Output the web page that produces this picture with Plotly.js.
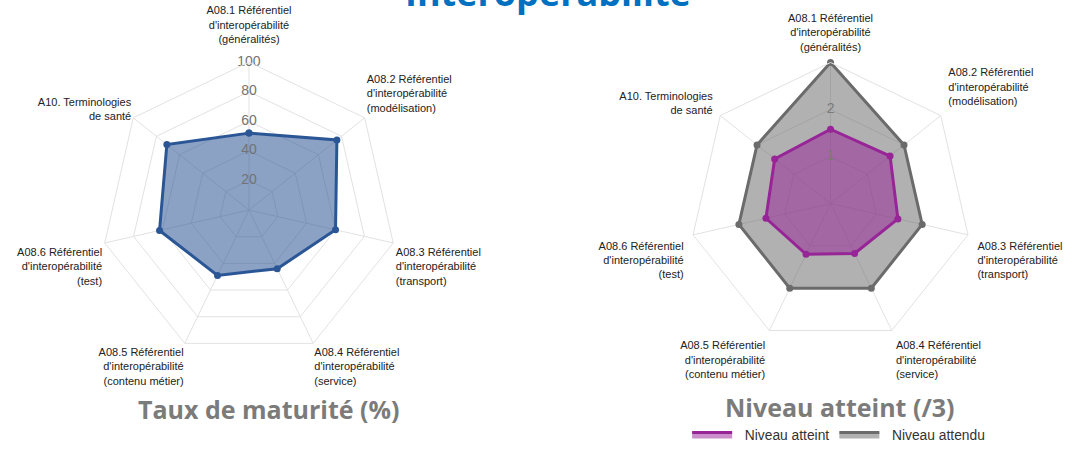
<!DOCTYPE html>
<html><head><meta charset="utf-8">
<script src="https://cdn.plot.ly/plotly-3.0.1.min.js"></script>
<style>html,body{margin:0;padding:0;background:#fff}#chart{width:1072px;height:450px}</style>
</head><body><div id="chart"></div>
<script>
var categories = [
  "A08.1 Référentiel d'interopérabilité (généralités)",
  "A08.2 Référentiel d'interopérabilité (modélisation)",
  "A08.3 Référentiel d'interopérabilité (transport)",
  "A08.4 Référentiel d'interopérabilité (service)",
  "A08.5 Référentiel d'interopérabilité (contenu métier)",
  "A08.6 Référentiel d'interopérabilité (test)",
  "A10. Terminologies de santé"
];
// tick labels as wrapped in the reference (blank lines only nudge the block outward)
var leftTickLabels = [
  "A08.1 Référentiel<br>d'interopérabilité<br>(généralités)<br>\u00a0",
  "A08.2 Référentiel<br>d'interopérabilité<br>(modélisation)<br>\u00a0",
  "\u00a0<br>\u00a0<br>A08.3 Référentiel<br>d'interopérabilité<br>(transport)",
  "A08.4 Référentiel<br>d'interopérabilité<br>(service)",
  "A08.5 Référentiel<br>d'interopérabilité<br>(contenu métier)",
  "\u00a0<br>\u00a0<br>A08.6 Référentiel<br>d'interopérabilité<br>(test)",
  "A10. Terminologies<br>de santé"
];
var rightTickLabels = [
  "A08.1 Référentiel<br>d'interopérabilité<br>(généralités)",
  "A08.2 Référentiel<br>d'interopérabilité<br>(modélisation)<br>\u00a0",
  "\u00a0<br>\u00a0<br>A08.3 Référentiel<br>d'interopérabilité<br>(transport)",
  "A08.4 Référentiel<br>d'interopérabilité<br>(service)",
  "A08.5 Référentiel<br>d'interopérabilité<br>(contenu métier)",
  "\u00a0<br>\u00a0<br>A08.6 Référentiel<br>d'interopérabilité<br>(test)",
  "A10. Terminologies<br>de santé"
];
var tauxMaturite = [52, 76, 60, 44, 49, 62, 71];
var niveauAtteint = [1.58, 1.62, 1.47, 1.18, 1.2, 1.41, 1.52];
var niveauAttendu = [3, 2, 2, 2, 2, 2, 2];
var leftTicks = [20, 40, 60, 80, 100];
var rightTicks = [1, 2];
var seriesNames = ['Niveau atteint', 'Niveau attendu'];

function closed(a){ return a.concat([a[0]]); }
var cats = closed(categories);

var BLUE = '#2b5696', GREY = '#6b6b6b', PURPLE = '#972597';

var traces = [
  {type:'scatterpolar', subplot:'polar', r: closed(tauxMaturite), theta: cats, mode:'lines+markers',
   fill:'toself', fillcolor:'rgba(43,86,150,0.55)', line:{color:BLUE, width:3}, marker:{size:7, color:BLUE},
   showlegend:false, hoverinfo:'skip'},
  // Niveau attendu: area + outline (legend), then its points
  {type:'scatterpolar', subplot:'polar2', r: closed(niveauAttendu), theta: cats, mode:'lines', name:'\u00a0\u00a0' + seriesNames[1],
   fill:'toself', fillcolor:'rgba(100,100,100,0.5)', line:{color:GREY, width:3},
   legendrank:2, hoverinfo:'skip'},
  {type:'scatterpolar', subplot:'polar2', r: niveauAttendu, theta: categories, mode:'markers',
   marker:{size:7, color:GREY}, showlegend:false, hoverinfo:'skip'},
  // Niveau atteint
  {type:'scatterpolar', subplot:'polar2', r: closed(niveauAtteint), theta: cats, mode:'lines', name:'\u00a0\u00a0' + seriesNames[0],
   fill:'toself', fillcolor:'rgba(150,30,150,0.5)', line:{color:PURPLE, width:3},
   legendrank:1, hoverinfo:'skip'},
  {type:'scatterpolar', subplot:'polar2', r: niveauAtteint, theta: categories, mode:'markers',
   marker:{size:7, color:PURPLE}, showlegend:false, hoverinfo:'skip'},
  // radial tick labels, centred on the radial spoke as in the reference
  {type:'scatterpolar', subplot:'polar', r: leftTicks, theta: leftTicks.map(function(){return categories[0];}),
   mode:'text', text: leftTicks.map(String), textposition:'middle center',
   textfont:{family:'Liberation Sans, Arial, sans-serif', size:14, color:'#737373'}, showlegend:false, hoverinfo:'skip'},
  {type:'scatterpolar', subplot:'polar2', r: rightTicks, theta: rightTicks.map(function(){return categories[0];}),
   mode:'text', text: rightTicks.map(String), textposition:'middle center',
   textfont:{family:'Liberation Sans, Arial, sans-serif', size:14, color:'#7a7a7a'}, showlegend:false, hoverinfo:'skip'}
];

function polarCfg(dx, dy, range, ticklen, labels){
  return {
    domain:{x:dx, y:dy},
    gridshape:'linear',
    bgcolor:'rgba(0,0,0,0)',
    angularaxis:{direction:'clockwise', rotation:90, type:'category', categoryarray:categories,
      tickmode:'array', tickvals:categories, ticktext:labels,
      tickfont:{family:'Liberation Sans, Arial, sans-serif', size:11, color:'#222'},
      gridcolor:'#e2e2e2', linecolor:'#e2e2e2', showline:true,
      ticks: ticklen ? 'outside' : '', ticklen: ticklen || 0, tickcolor:'rgba(0,0,0,0)'},
    radialaxis:{range:range, dtick: range[1] > 10 ? 20 : 1, showticklabels:false, showline:false, ticks:'', angle:90,
      gridcolor:'#e2e2e2'}
  };
}

var layout = {
  width:1072, height:450,
  margin:{l:0, r:0, t:0, b:0},
  paper_bgcolor:'#fff',
  polar: polarCfg([0.0942, 0.3703], [0.2044, 0.862], [0, 100], 0, leftTickLabels),
  polar2: polarCfg([0.6432, 0.9063], [0.2344, 0.8611], [0, 3], 7, rightTickLabels),
  showlegend:true,
  legend:{orientation:'h', x:0.641, y:0, xanchor:'left', yanchor:'bottom', itemwidth:40,
    font:{family:'Liberation Sans, Arial, sans-serif', size:13.8, color:'#333'}, bgcolor:'rgba(0,0,0,0)'},
  annotations:[
    {text:'<b>Interopérabilité</b>', xref:'paper', yref:'paper', x:548/1072, y:(450-19.5)/450, xanchor:'center', yanchor:'bottom',
     showarrow:false, font:{family:'Open Sans', size:36, color:'#0070c0'}},
    {text:'<b>Taux de maturité (%)</b>', xref:'paper', yref:'paper', x:269/1072, y:(450-409)/450, xanchor:'center', yanchor:'middle',
     showarrow:false, font:{family:'Open Sans', size:25, color:'#7b7b7b'}},
    {text:'<b>Niveau atteint (/3)</b>', xref:'paper', yref:'paper', x:840/1072, y:(450-407)/450, xanchor:'center', yanchor:'middle',
     showarrow:false, font:{family:'Open Sans', size:25, color:'#7b7b7b'}}
  ]
};

Plotly.newPlot('chart', traces, layout, {displayModeBar:false, staticPlot:true});
</script></body></html>
